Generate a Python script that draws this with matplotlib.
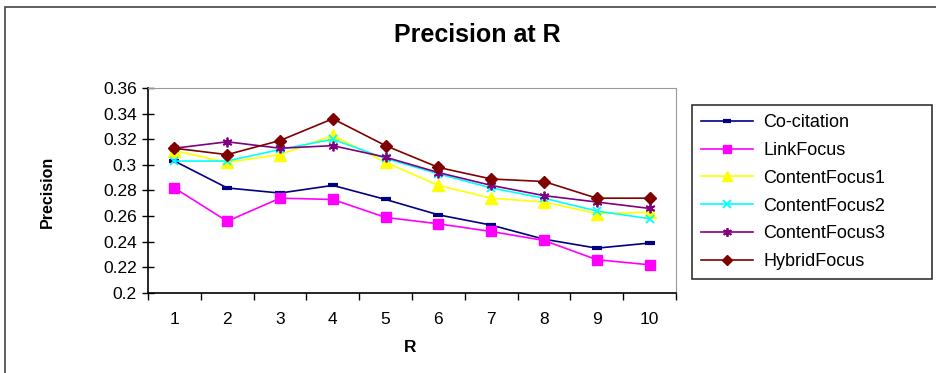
import matplotlib.pyplot as plt
from matplotlib.patches import Rectangle

plt.rcParams['font.family'] = ['Liberation Sans', 'DejaVu Sans']

r_values = [1, 2, 3, 4, 5, 6, 7, 8, 9, 10]

co_citation = [0.303, 0.282, 0.278, 0.284, 0.273, 0.261, 0.253, 0.242, 0.235, 0.239]
link_focus = [0.282, 0.256, 0.274, 0.273, 0.259, 0.254, 0.248, 0.241, 0.226, 0.222]
content_focus1 = [0.311, 0.302, 0.308, 0.323, 0.302, 0.284, 0.274, 0.271, 0.262, 0.263]
content_focus2 = [0.303, 0.303, 0.312, 0.320, 0.305, 0.293, 0.282, 0.274, 0.264, 0.258]
content_focus3 = [0.313, 0.318, 0.313, 0.315, 0.306, 0.294, 0.284, 0.276, 0.271, 0.266]
hybrid_focus = [0.313, 0.308, 0.319, 0.336, 0.315, 0.298, 0.289, 0.287, 0.274, 0.274]

y_ticks = [0.2, 0.22, 0.24, 0.26, 0.28, 0.3, 0.32, 0.34, 0.36]
y_tick_labels = ['0.2', '0.22', '0.24', '0.26', '0.28', '0.3', '0.32', '0.34', '0.36']

series = [
    ('Co-citation', co_citation, dict(color='#000080', marker='_', ms=7, mew=3)),
    ('LinkFocus', link_focus, dict(color='#FF00FF', marker='s', ms=7)),
    ('ContentFocus1', content_focus1, dict(color='#FFFF00', marker='^', ms=8)),
    ('ContentFocus2', content_focus2, dict(color='#00FFFF', marker='x', ms=6, mew=1.3)),
    ('ContentFocus3', content_focus3, dict(color='#800080', marker=(6, 2, 0), ms=7, mew=1.3)),
    ('HybridFocus', hybrid_focus, dict(color='#800000', marker='D', ms=6)),
]

W, H = 936, 373
fig = plt.figure(figsize=(W / 100, H / 100), dpi=100)

# outer chart border (runs off the right and bottom edges)
fig.patches.append(Rectangle((5 / W, -0.1), 1.2, 1 - 7 / H + 0.1,
                             transform=fig.transFigure, fill=False,
                             edgecolor='#444444', linewidth=1.2))

left, right, top, bottom = 148, 676, 88, 293
ax = fig.add_axes([left / W, 1 - bottom / H, (right - left) / W, (bottom - top) / H])

for name, values, style in series:
    ax.plot(r_values, values, label=name, linewidth=1.2, **style)

ax.set_xlim(0.5, 10.5)
ax.set_ylim(0.2, 0.36)
ax.set_yticks(y_ticks)
ax.set_yticklabels(y_tick_labels, fontsize=12.5)
ax.set_xticks(r_values)
ax.set_xticklabels([str(r) for r in r_values], fontsize=12.5)
ax.set_xticks([r + 0.5 for r in range(0, 11)], minor=True)
ax.tick_params(axis='x', which='major', length=0, pad=14)
ax.tick_params(axis='x', which='minor', length=5, width=1, direction='out')
ax.tick_params(axis='y', length=8, width=1, direction='inout', pad=4)

for side in ('top', 'right'):
    ax.spines[side].set_color('#999999')
for side in ('left', 'bottom'):
    ax.spines[side].set_color('black')
    ax.spines[side].set_linewidth(1.2)

fig.text(477 / W, 1 - 35 / H, 'Precision at R', ha='center', va='center',
         fontsize=18, fontweight='bold')
fig.text(47 / W, 1 - 192 / H, 'Precision', ha='center', va='center',
         rotation=90, fontsize=11.5, fontweight='bold')
fig.text(410 / W, 1 - 348 / H, 'R', ha='center', va='center',
         fontsize=12.5, fontweight='bold')

leg = ax.legend(loc='upper left', bbox_to_anchor=(692 / W, 1 - 275 / H, 240 / W, 170 / H),
                bbox_transform=fig.transFigure, mode='expand', fontsize=13,
                frameon=True, fancybox=False, edgecolor='black', handlelength=2.9,
                handletextpad=0.55, labelspacing=0.6, borderpad=0.5,
                borderaxespad=0, markerscale=0.9)
leg.get_frame().set_linewidth(1.2)

fig.savefig('out.png', dpi=100)
